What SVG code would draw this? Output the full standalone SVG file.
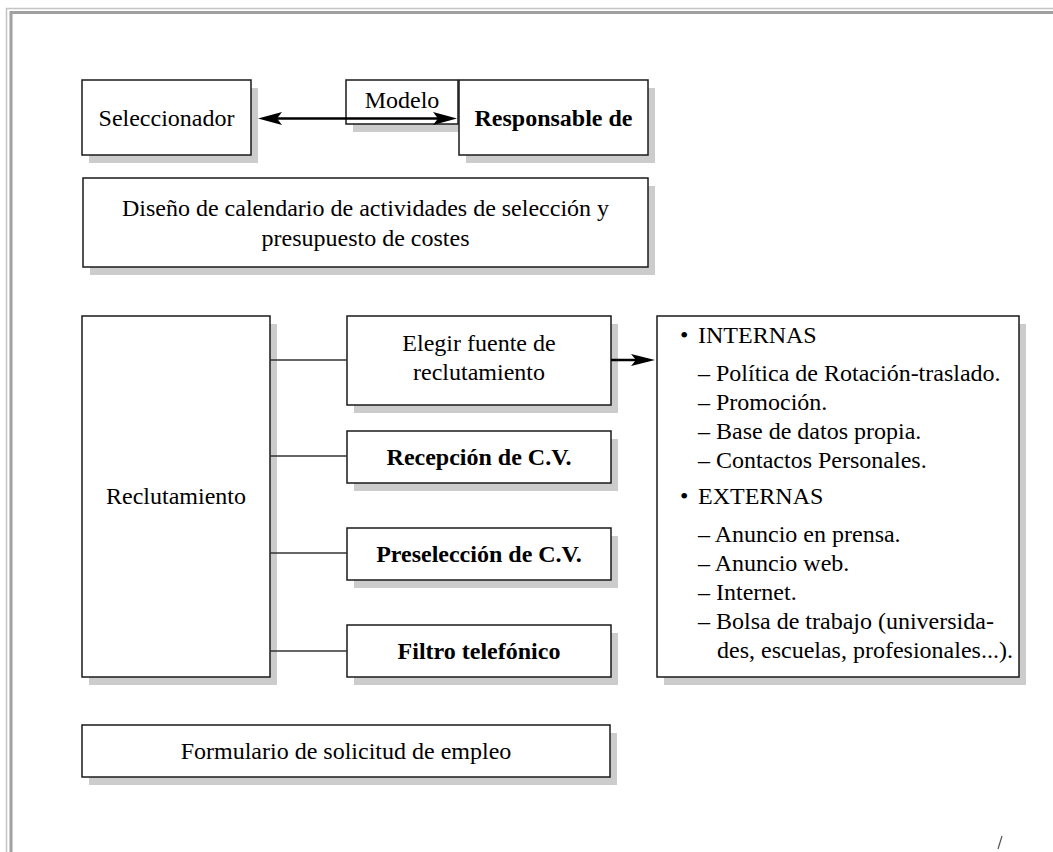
<svg xmlns="http://www.w3.org/2000/svg" width="1053" height="852" viewBox="0 0 1053 852">
<style>
.box{fill:#fff;stroke:#1a1a1a;stroke-width:1.5}
.sh{fill:#cccccc}
.t{font-family:"Liberation Serif","Times New Roman",serif;font-size:24px;fill:#000}
.c{text-anchor:middle}
.b{font-weight:bold}
.ln{stroke:#333;stroke-width:1.5;fill:none}
.ar{stroke:#000;stroke-width:2.5;fill:none}
.hd{fill:#000}
</style>
<rect width="1053" height="852" fill="#fff"/>
<g id="frame">
<path d="M6.5 852 V8.5 H1053" fill="none" stroke="#c4c4c4" stroke-width="1.5"/>
<path d="M11 852 V12.5 H1053" fill="none" stroke="#a0a0a0" stroke-width="3"/>
<path d="M1002 836 L998 849" stroke="#555" stroke-width="1.2"/>
</g>
<g id="seleccionador">
<rect class="sh" x="89" y="88" width="169" height="75"/>
<rect class="box" x="82" y="80" width="169" height="75"/>
<text class="t c" x="166.5" y="126">Seleccionador</text>
</g>
<g id="modelo">
<rect class="sh" x="353" y="88" width="112" height="44"/>
<rect class="box" x="346" y="80" width="112" height="44"/>
<text class="t c" x="402" y="108">Modelo</text>
</g>
<g id="responsable">
<rect class="sh" x="466" y="88" width="189" height="75"/>
<rect class="box" x="459" y="80" width="189" height="75"/>
<text class="t c b" x="553.5" y="126">Responsable de</text>
</g>
<g id="diseno">
<rect class="sh" x="90" y="186" width="565" height="89"/>
<rect class="box" x="83" y="178" width="565" height="89"/>
<text class="t c" x="365.5" y="216">Diseño de calendario de actividades de selección y</text>
<text class="t c" x="365.5" y="246">presupuesto de costes</text>
</g>
<g id="reclutamiento">
<rect class="sh" x="89" y="324" width="188" height="361"/>
<rect class="box" x="82" y="316" width="188" height="361"/>
<text class="t c" x="176" y="504">Reclutamiento</text>
</g>
<g id="elegir">
<rect class="sh" x="354" y="324" width="264" height="89"/>
<rect class="box" x="347" y="316" width="264" height="89"/>
<text class="t c" x="479" y="351">Elegir fuente de</text>
<text class="t c" x="479" y="380">reclutamiento</text>
</g>
<g id="recepcion">
<rect class="sh" x="354" y="439" width="264" height="52"/>
<rect class="box" x="347" y="431" width="264" height="52"/>
<text class="t c b" x="479" y="465">Recepción de C.V.</text>
</g>
<g id="preseleccion">
<rect class="sh" x="354" y="536" width="264" height="52"/>
<rect class="box" x="347" y="528" width="264" height="52"/>
<text class="t c b" x="479" y="562">Preselección de C.V.</text>
</g>
<g id="filtro">
<rect class="sh" x="354" y="633" width="264" height="52"/>
<rect class="box" x="347" y="625" width="264" height="52"/>
<text class="t c b" x="479" y="659">Filtro telefónico</text>
</g>
<g id="fuentes">
<rect class="sh" x="664" y="324" width="362" height="361"/>
<rect class="box" x="657" y="316" width="362" height="361"/>
<text class="t" x="680" y="343">•<tspan x="698">INTERNAS</tspan></text>
<text class="t" x="698" y="381">– Política de Rotación-traslado.</text>
<text class="t" x="698" y="410">– Promoción.</text>
<text class="t" x="698" y="439">– Base de datos propia.</text>
<text class="t" x="698" y="468">– Contactos Personales.</text>
<text class="t" x="680" y="504">•<tspan x="698">EXTERNAS</tspan></text>
<text class="t" x="698" y="542">– Anuncio en prensa.</text>
<text class="t" x="698" y="571">– Anuncio web.</text>
<text class="t" x="698" y="600">– Internet.</text>
<text class="t" x="698" y="629">– Bolsa de trabajo (universida-</text>
<text class="t" x="717" y="658">des, escuelas, profesionales...).</text>
</g>
<g id="formulario">
<rect class="sh" x="89" y="733" width="528" height="52"/>
<rect class="box" x="82" y="725" width="528" height="52"/>
<text class="t c" x="346" y="759">Formulario de solicitud de empleo</text>
</g>
<g id="connectors">
<line class="ar" x1="268" y1="118.5" x2="447" y2="118.5"/>
<path class="hd" d="M258 118.5 L282 112 L277 118.5 L282 125 Z"/>
<path class="hd" d="M457 118.5 L433 112 L438 118.5 L433 125 Z"/>
<line class="ln" x1="270" y1="360" x2="347" y2="360"/>
<line class="ln" x1="270" y1="456" x2="347" y2="456"/>
<line class="ln" x1="270" y1="553" x2="347" y2="553"/>
<line class="ln" x1="270" y1="651" x2="347" y2="651"/>
<line class="ar" x1="611" y1="360" x2="640" y2="360"/>
<path class="hd" d="M655 360 L631 354 L636 360 L631 366 Z"/>
</g>
</svg>
